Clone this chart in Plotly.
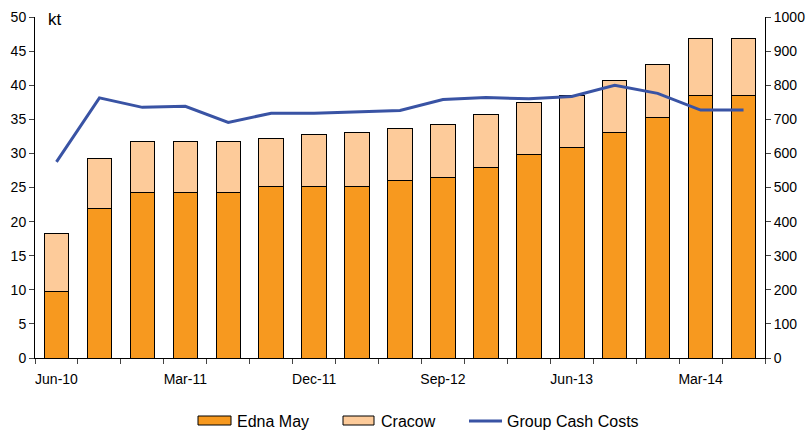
import plotly.graph_objects as go

quarters = ["Jun-10", "Sep-10", "Dec-10", "Mar-11", "Jun-11", "Sep-11", "Dec-11", "Mar-12",
            "Jun-12", "Sep-12", "Dec-12", "Mar-13", "Jun-13", "Sep-13", "Dec-13", "Mar-14", "Jun-14"]
edna_may = [9.8, 21.9, 24.3, 24.3, 24.3, 25.1, 25.1, 25.1, 26.0, 26.5, 28.0, 29.8, 30.8, 33.0, 35.3, 38.5, 38.5]
total = [18.2, 29.3, 31.7, 31.7, 31.7, 32.2, 32.7, 33.0, 33.7, 34.3, 35.7, 37.5, 38.5, 40.7, 43.0, 46.8, 46.8]
cracow = [round(t - e, 2) for t, e in zip(total, edna_may)]
cash_costs = [575, 763, 735, 738, 691, 718, 718, 721, 726, 758, 764, 760, 767, 800, 776, 727, 727]

font = "Liberation Sans, Arial, sans-serif"
ORANGE = "#F7991F"
LIGHT = "#FDCB9A"
BLUE = "#3953A4"

fig = go.Figure()
fig.add_trace(go.Bar(x=quarters, y=edna_may, name="Edna May", width=0.57,
                     marker=dict(color=ORANGE, line=dict(color="black", width=1))))
fig.add_trace(go.Bar(x=quarters, y=cracow, name="Cracow", width=0.57,
                     marker=dict(color=LIGHT, line=dict(color="black", width=1))))
fig.add_trace(go.Scatter(x=quarters, y=cash_costs, name="Group Cash Costs", yaxis="y2",
                         mode="lines", line=dict(color=BLUE, width=3)))

# plot area in pixels: x 35..765, y 17..358
L, R, T, B = 35, 765, 17, 358
def px(x):
    return (x - L) / (R - L)
def py(y):
    return (B - y) / (B - T)

leg_y = 421
shapes = [
    dict(type="rect", xref="paper", yref="paper", x0=px(198), x1=px(231), y0=py(416), y1=py(425),
         fillcolor=ORANGE, line=dict(color="black", width=1)),
    dict(type="rect", xref="paper", yref="paper", x0=px(343), x1=px(374), y0=py(416), y1=py(425),
         fillcolor=LIGHT, line=dict(color="black", width=1)),
    dict(type="line", xref="paper", yref="paper", x0=px(469), x1=px(502), y0=py(leg_y), y1=py(leg_y),
         line=dict(color=BLUE, width=3)),
]
annotations = [
    dict(text="kt", x=px(46), y=py(20), xref="paper", yref="paper", xanchor="left",
         yanchor="middle", showarrow=False, font=dict(size=17)),
]
for name, x0 in [("Edna May", 235), ("Cracow", 379), ("Group Cash Costs", 505)]:
    annotations.append(dict(text=name, x=px(x0), y=py(leg_y), xref="paper", yref="paper",
                            xanchor="left", yanchor="middle", showarrow=False,
                            font=dict(size=16)))

fig.update_layout(
    barmode="stack",
    width=807, height=430,
    margin=dict(l=L, r=807 - R, t=T, b=430 - B, autoexpand=False),
    plot_bgcolor="white", paper_bgcolor="white",
    font=dict(family=font, size=14, color="black"),
    showlegend=False,
    xaxis=dict(type="category", tickson="boundaries", ticks="outside", ticklen=5,
               tickmode="linear", dtick=1, ticklabelstep=3, tickangle=0, automargin=False,
               ticklabelstandoff=8,
               showline=True, linecolor="black", showgrid=False,
               range=[-0.5, 16.5], tickfont=dict(size=14)),
    yaxis=dict(range=[0, 50], dtick=5, ticks="outside", ticklen=5, showline=True, automargin=False,
               linecolor="black", showgrid=False, zeroline=False, tickfont=dict(size=14)),
    yaxis2=dict(range=[0, 1000], dtick=100, ticks="outside", ticklen=5, showline=True,
                automargin=False, linecolor="black", showgrid=False, zeroline=False,
                overlaying="y", side="right", tickfont=dict(size=14)),
    shapes=shapes,
    annotations=annotations,
)

fig.write_html("out.html")
